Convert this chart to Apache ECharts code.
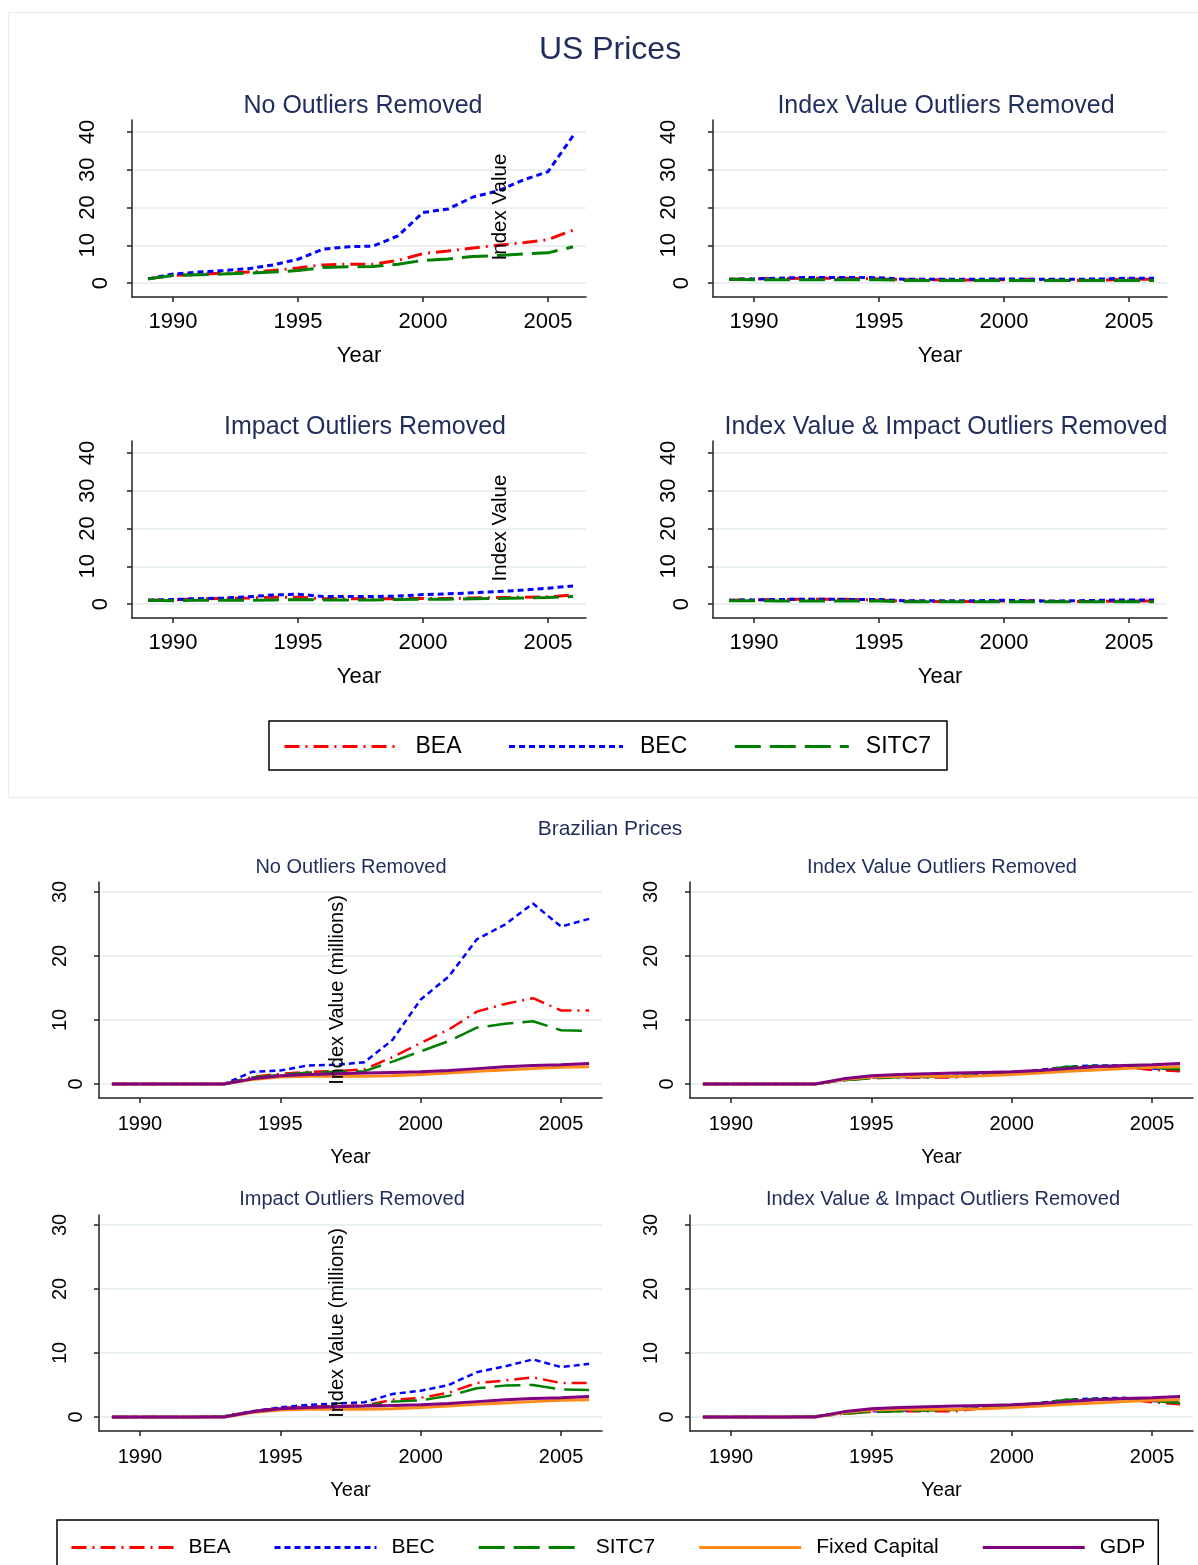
<!DOCTYPE html>
<html>
<head>
<meta charset="utf-8">
<script src="https://cdn.jsdelivr.net/npm/echarts@6/dist/echarts.min.js"></script>
<style>
html, body { margin: 0; padding: 0; background: #ffffff; }
#chart { width: 1198px; height: 1565px; }
</style>
</head>
<body>
<div id="chart"></div>
<script>
// ---- axis categories and tick labels ----
const years = [1989, 1990, 1991, 1992, 1993, 1994, 1995, 1996, 1997, 1998,
               1999, 2000, 2001, 2002, 2003, 2004, 2005, 2006];
const xTicks = [1990, 1995, 2000, 2005];
const usYTicks = [0, 10, 20, 30, 40];
const brYTicks = [0, 10, 20, 30];

// ---- US prices: no outliers removed ----
const usNoBEA   = [1.1, 2.0, 2.3, 2.6, 2.9, 3.3, 4.0, 4.8, 5.0, 5.0, 6.0, 7.8, 8.5, 9.3, 10.0, 10.7, 11.5, 14.0];
const usNoBEC   = [1.1, 2.4, 2.9, 3.3, 3.8, 4.8, 6.3, 9.0, 9.6, 9.8, 12.5, 18.7, 19.6, 22.8, 24.4, 27.3, 29.5, 39.0];
const usNoSITC7 = [1.1, 2.0, 2.2, 2.4, 2.6, 2.9, 3.3, 4.1, 4.3, 4.4, 5.0, 6.0, 6.4, 7.0, 7.3, 7.7, 8.0, 9.6];

// ---- US prices: index value outliers removed ----
const usIdxBEA   = [1.0, 1.1, 1.2, 1.3, 1.3, 1.2, 1.1, 0.9, 0.9, 0.8, 0.8, 0.9, 1.0, 0.8, 0.7, 0.8, 1.0, 1.0];
const usIdxBEC   = [1.0, 1.1, 1.3, 1.5, 1.5, 1.5, 1.4, 1.0, 1.0, 1.0, 1.0, 1.1, 1.0, 1.0, 1.0, 1.1, 1.3, 1.3];
const usIdxSITC7 = [1.0, 0.9, 0.9, 0.9, 0.9, 0.9, 0.9, 0.7, 0.7, 0.7, 0.7, 0.7, 0.7, 0.7, 0.7, 0.7, 0.7, 0.7];

// ---- US prices: impact outliers removed ----
const usImpBEA   = [1.0, 1.1, 1.4, 1.5, 1.6, 1.8, 1.8, 1.4, 1.4, 1.4, 1.4, 1.5, 1.5, 1.6, 1.7, 1.8, 1.9, 2.4];
const usImpBEC   = [1.0, 1.2, 1.4, 1.6, 1.9, 2.4, 2.6, 2.0, 2.0, 2.0, 2.1, 2.5, 2.7, 3.0, 3.3, 3.7, 4.2, 4.8];
const usImpSITC7 = [1.0, 0.9, 1.0, 1.0, 1.0, 1.1, 1.2, 1.1, 1.1, 1.1, 1.2, 1.3, 1.3, 1.4, 1.5, 1.6, 1.7, 2.0];

// ---- US prices: index value & impact outliers removed ----
const usBothBEA   = [1.0, 1.1, 1.2, 1.3, 1.3, 1.2, 1.0, 0.8, 0.7, 0.7, 0.7, 0.8, 0.8, 0.7, 0.7, 0.7, 0.8, 0.8];
const usBothBEC   = [1.0, 1.1, 1.2, 1.3, 1.3, 1.2, 1.2, 0.9, 0.9, 0.9, 0.9, 1.0, 0.9, 0.8, 0.9, 1.0, 1.1, 1.1];
const usBothSITC7 = [0.9, 0.9, 0.8, 0.8, 0.8, 0.8, 0.8, 0.6, 0.6, 0.6, 0.6, 0.6, 0.6, 0.6, 0.6, 0.6, 0.6, 0.6];

// ---- Brazilian prices: no outliers removed ----
const brNoBEA   = [0, 0, 0, 0, 0, 1.1, 1.6, 1.9, 2.0, 2.3, 4.2, 6.4, 8.5, 11.3, 12.5, 13.4, 11.5, 11.5];
const brNoBEC   = [0, 0, 0, 0, 0, 1.9, 2.1, 2.9, 3.0, 3.4, 6.9, 13.2, 16.8, 22.6, 24.9, 28.2, 24.6, 25.8];
const brNoSITC7 = [0, 0, 0, 0, 0, 1.0, 1.4, 1.8, 1.9, 2.0, 3.5, 5.1, 6.7, 8.8, 9.4, 9.8, 8.4, 8.3];

// ---- Brazilian prices: index value outliers removed ----
const brIdxBEA   = [0, 0, 0, 0, 0, 0.6, 0.9, 1.0, 1.0, 1.0, 1.5, 1.7, 2.1, 2.5, 2.7, 2.7, 2.2, 2.0];
const brIdxBEC   = [0, 0, 0, 0, 0, 0.6, 1.0, 1.1, 1.1, 1.3, 1.5, 1.8, 2.2, 2.7, 2.9, 2.9, 2.4, 2.3];
const brIdxSITC7 = [0, 0, 0, 0, 0, 0.6, 0.9, 1.1, 1.1, 1.2, 1.5, 1.7, 2.1, 2.7, 2.8, 2.8, 2.5, 2.3];

// ---- Brazilian prices: impact outliers removed ----
const brImpBEA   = [0, 0, 0, 0, 0.1, 0.9, 1.4, 1.6, 1.7, 1.8, 2.7, 3.0, 3.8, 5.3, 5.7, 6.2, 5.3, 5.3];
const brImpBEC   = [0, 0, 0, 0, 0.1, 0.9, 1.5, 1.9, 2.1, 2.3, 3.6, 4.1, 5.0, 7.0, 7.9, 9.0, 7.8, 8.3];
const brImpSITC7 = [0, 0, 0, 0, 0.1, 0.8, 1.2, 1.5, 1.6, 1.7, 2.4, 2.6, 3.3, 4.5, 4.9, 5.0, 4.3, 4.2];

// ---- Brazilian prices: index value & impact outliers removed ----
const brBothBEA   = [0, 0, 0, 0, 0.1, 0.5, 0.8, 0.9, 0.9, 0.9, 1.4, 1.7, 2.1, 2.5, 2.7, 2.8, 2.3, 2.0];
const brBothBEC   = [0, 0, 0, 0, 0.1, 0.6, 0.9, 1.0, 1.1, 1.2, 1.5, 1.8, 2.2, 2.7, 2.9, 3.0, 2.5, 2.3];
const brBothSITC7 = [0, 0, 0, 0, 0.1, 0.5, 0.8, 0.9, 1.0, 1.1, 1.5, 1.8, 2.2, 2.7, 2.8, 2.8, 2.5, 2.2];

// ---- Brazilian benchmarks (same in every Brazilian panel) ----
const fixedCapital = [0, 0, 0, 0, 0, 0.7, 1.1, 1.2, 1.2, 1.2, 1.3, 1.5, 1.7, 2.0, 2.2, 2.4, 2.6, 2.7];
const gdp          = [0, 0, 0, 0, 0, 0.8, 1.3, 1.5, 1.6, 1.7, 1.8, 1.9, 2.1, 2.4, 2.7, 2.9, 3.0, 3.2];

// ---- styling ----
const FONT = "'Liberation Sans', Arial, Helvetica, sans-serif";
const NAVY = '#1f2c5c';
const GRIDLINE = '#e8f0f1';
const COLORS = { 'BEA': '#ff0000', 'BEC': '#0000ff', 'SITC7': '#008000', 'Fixed Capital': '#ff8c1a', 'GDP': '#800080' };
const DASH = { 'BEA': [15, 6, 2, 6], 'BEC': [6, 4], 'SITC7': [26, 9], 'Fixed Capital': 'solid', 'GDP': 'solid' };

const US = { w: 454, h: 177, x: [1988.36, 2006.52], y: [-3.7, 43.2], ticks: usYTicks,
             fs: 22, yMargin: 24.5, lh: 13, xMargin: 14, nameGap: 48, nameFs: 22, lw: 3 };
const BR = { w: 503, h: 216, x: [1988.54, 2006.46], y: [-2.19, 31.56], ticks: brYTicks,
             fs: 20, yMargin: 15, lh: 16, xMargin: 16, nameGap: 49, nameFs: 20, lw: 2.5 };

const panels = [
  { s: US, left: 132, top: 120, lines: { 'BEA': usNoBEA, 'BEC': usNoBEC, 'SITC7': usNoSITC7 } },
  { s: US, left: 713, top: 120, lines: { 'BEA': usIdxBEA, 'BEC': usIdxBEC, 'SITC7': usIdxSITC7 } },
  { s: US, left: 132, top: 441, lines: { 'BEA': usImpBEA, 'BEC': usImpBEC, 'SITC7': usImpSITC7 } },
  { s: US, left: 713, top: 441, lines: { 'BEA': usBothBEA, 'BEC': usBothBEC, 'SITC7': usBothSITC7 } },
  { s: BR, left: 99, top: 882, lines: { 'BEA': brNoBEA, 'BEC': brNoBEC, 'SITC7': brNoSITC7, 'Fixed Capital': fixedCapital, 'GDP': gdp } },
  { s: BR, left: 690, top: 882, lines: { 'BEA': brIdxBEA, 'BEC': brIdxBEC, 'SITC7': brIdxSITC7, 'Fixed Capital': fixedCapital, 'GDP': gdp } },
  { s: BR, left: 99, top: 1215, lines: { 'BEA': brImpBEA, 'BEC': brImpBEC, 'SITC7': brImpSITC7, 'Fixed Capital': fixedCapital, 'GDP': gdp } },
  { s: BR, left: 690, top: 1215, lines: { 'BEA': brBothBEA, 'BEC': brBothBEC, 'SITC7': brBothSITC7, 'Fixed Capital': fixedCapital, 'GDP': gdp } }
];

const grids = [], xAxes = [], yAxes = [], series = [];
panels.forEach((p, i) => {
  const s = p.s;
  grids.push({ left: p.left, top: p.top, width: s.w, height: s.h, containLabel: false });
  xAxes.push({
    type: 'value', gridIndex: i, min: s.x[0], max: s.x[1],
    name: 'Year', nameLocation: 'middle', nameGap: s.nameGap,
    nameTextStyle: { fontFamily: FONT, fontSize: s.nameFs, color: '#000' },
    axisLine: { show: true, onZero: false, lineStyle: { color: '#222', width: 1.5 } },
    axisTick: { show: true, customValues: xTicks, length: 5, lineStyle: { color: '#222', width: 1.5 } },
    axisLabel: { customValues: xTicks, fontFamily: FONT, fontSize: s.fs, color: '#000', margin: s.xMargin,
                 formatter: v => String(v) },
    splitLine: { show: false }
  });
  yAxes.push({
    type: 'value', gridIndex: i, min: s.y[0], max: s.y[1],
    axisLine: { show: true, onZero: false, lineStyle: { color: '#222', width: 1.5 } },
    axisTick: { show: true, customValues: s.ticks, length: 5, lineStyle: { color: '#222', width: 1.5 } },
    axisLabel: {
      customValues: s.ticks, rotate: 90, fontFamily: FONT, fontSize: s.fs, color: '#000',
      margin: s.yMargin, lineHeight: s.lh,
      formatter: v => (v === 0 ? '0' : v + '\n')
    },
    splitLine: { show: true, lineStyle: { color: GRIDLINE, width: 2 } }
  });
  Object.keys(p.lines).forEach((name, k) => {
    const arr = p.lines[name];
    const solid = (name === 'Fixed Capital' || name === 'GDP');
    series.push({
      type: 'line', name: name, xAxisIndex: i, yAxisIndex: i,
      data: years.map((yr, j) => [yr, arr[j]]),
      symbol: 'none', showSymbol: false, silent: true, animation: false,
      z: 2 + k,
      lineStyle: { color: COLORS[name], width: solid ? 3 : s.lw, type: DASH[name], cap: 'butt' },
      itemStyle: { color: COLORS[name] }
    });
  });
});

function label(text, x, y, size, color, rotate) {
  return {
    type: 'text', x: x, y: y, rotation: rotate ? Math.PI / 2 : 0, z: 100,
    style: { text: text, fill: color, font: size + 'px ' + FONT, textAlign: 'center', textVerticalAlign: 'middle' }
  };
}

const graphics = [
  { type: 'rect', shape: { x: 8.5, y: 12.5, width: 1200, height: 785 }, style: { fill: 'none', stroke: '#e6ebeb', lineWidth: 1 }, z: 0, silent: true },
  label('US Prices', 610, 50, 32, NAVY),
  label('No Outliers Removed', 363, 106.5, 25, NAVY),
  label('Index Value Outliers Removed', 946, 106.5, 25, NAVY),
  label('Impact Outliers Removed', 365, 427.5, 25, NAVY),
  label('Index Value & Impact Outliers Removed', 946, 427.5, 25, NAVY),
  label('Index Value', 500, 207, 20.5, '#000', true),
  label('Index Value', 500, 528, 20.5, '#000', true),
  label('Brazilian Prices', 610, 829.5, 21, NAVY),
  label('No Outliers Removed', 351, 867.5, 20, NAVY),
  label('Index Value Outliers Removed', 942, 867.5, 20, NAVY),
  label('Impact Outliers Removed', 352, 1199.5, 20, NAVY),
  label('Index Value & Impact Outliers Removed', 943, 1199.5, 20, NAVY),
  label('Index Value (millions)', 337, 990, 20, '#000', true),
  label('Index Value (millions)', 337, 1323, 20, '#000', true)
];

// legend keys show only the line pattern (no marker)
const legends = [
  {
    data: ['BEA', 'BEC', 'SITC7'], left: 269, top: 721, orient: 'horizontal',
    itemWidth: 114, itemHeight: 14, itemGap: 46, padding: [14, 16, 12, 14],
    borderColor: '#000', borderWidth: 1.5, selectedMode: false,
    lineStyle: { width: 3 },
    itemStyle: { opacity: 0 },
    textStyle: { fontFamily: FONT, fontSize: 23, color: '#000', padding: [0, 0, 0, 12] }
  },
  {
    data: ['BEA', 'BEC', 'SITC7', 'Fixed Capital', 'GDP'], left: 57, top: 1520, orient: 'horizontal',
    itemWidth: 102, itemHeight: 14, itemGap: 42.5, padding: [17, 13, 12, 13],
    borderColor: '#000', borderWidth: 1.5, selectedMode: false,
    lineStyle: { width: 3 },
    itemStyle: { opacity: 0 },
    textStyle: { fontFamily: FONT, fontSize: 21, color: '#000', padding: [0, 0, 0, 10] }
  }
];

const chart = echarts.init(document.getElementById('chart'), null, { renderer: 'canvas' });
chart.setOption({
  backgroundColor: '#ffffff',
  animation: false,
  grid: grids,
  xAxis: xAxes,
  yAxis: yAxes,
  series: series,
  legend: legends,
  graphic: graphics
});
</script>
</body>
</html>
